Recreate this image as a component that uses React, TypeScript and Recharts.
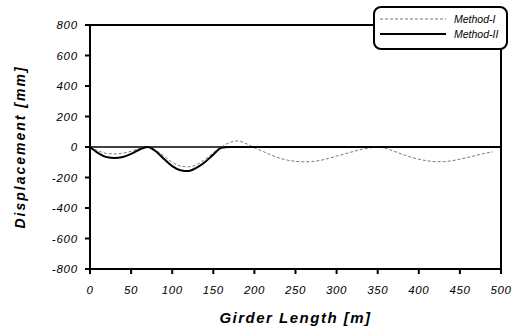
import React from "react";
import { LineChart, Line, XAxis, YAxis, ReferenceLine, ReferenceArea, Label } from "recharts";

const xValues = [0,10,20,30,40,50,60,70,80,90,100,110,120,130,140,150,160,170,180,190,200,210,220,230,240,250,260,270,280,290,300,310,320,330,340,350,360,370,380,390,400,410,420,430,440,450,460,470,480,490,500];
const method1: (number | null)[] = [0,-25,-42,-45,-40,-28,-10,-2,-22,-60,-100,-125,-130,-115,-80,-38,0,30,40,22,-5,-28,-52,-72,-86,-94,-97,-95,-88,-75,-60,-45,-30,-16,-6,-2,-10,-28,-48,-66,-80,-90,-96,-96,-90,-80,-68,-55,-42,-32,null];
const method2: (number | null)[] = [0,-40,-66,-72,-65,-45,-18,0,-28,-78,-125,-152,-158,-135,-98,-50,-5,0,0,0,0,0,0,0,0,0,0,0,0,0,0,0,0,0,0,0,0,0,0,0,0,0,0,0,0,0,0,0,0,0,0];
const xTicks = [0,50,100,150,200,250,300,350,400,450,500];
const yTicks = [-800,-600,-400,-200,0,200,400,600,800];
const seriesNames = ["Method-I", "Method-II"];

const data = xValues.map((x, i) => ({ x, m1: method1[i], m2: method2[i] }));

const font = "Liberation Sans, Arial, sans-serif";

// layout
const W = 517, H = 328;
const M = { top: 25, right: 16, bottom: 0, left: 0 };
const Y_AXIS_W = 90, X_AXIS_H = 59;
const plotW = W - M.left - M.right - Y_AXIS_W;
const plotH = H - M.top - M.bottom - X_AXIS_H;
const xMin = xTicks[0], xMax = xTicks[xTicks.length - 1];
const yMin = yTicks[0], yMax = yTicks[yTicks.length - 1];
const TICK_PX = 5;
const tickLenX = (TICK_PX * (xMax - xMin)) / plotW;
const tickLenY = (TICK_PX * (yMax - yMin)) / plotH;

const XTick = (props: any) => {
  const { x, y, payload } = props;
  return (
    <text x={x} y={y + 20} textAnchor="middle" fontFamily={font} fontStyle="italic" fontSize={11.5} letterSpacing={0.6} fill="#000">{payload.value}</text>
  );
};

const YTick = (props: any) => {
  const { x, y, payload } = props;
  return (
    <text x={x - 7} y={y + 4} textAnchor="end" fontFamily={font} fontStyle="italic" fontSize={11.5} letterSpacing={0.8} fill="#000">{payload.value}</text>
  );
};

const LegendBox = () => (
  <div style={{ position: "absolute", left: 373, top: 6, border: "2px solid #000", borderRadius: 8, background: "#fff", width: 135, height: 44, boxSizing: "border-box", fontFamily: font, fontStyle: "italic", fontSize: 10.5, color: "#000" }}>
    <svg width={70} height={40} style={{ position: "absolute", left: 3, top: 1 }}>
      <line x1={2} y1={10} x2={68} y2={10} stroke="#777" strokeWidth={1} strokeDasharray="3 2" />
      <rect x={2} y={24} width={66} height={2} fill="#000" />
    </svg>
    <div style={{ position: "absolute", left: 79, top: 5, lineHeight: "12px" }}>{seriesNames[0]}</div>
    <div style={{ position: "absolute", left: 79, top: 20, lineHeight: "12px" }}>{seriesNames[1]}</div>
  </div>
);

export default function App() {
  return (
    <div style={{ position: "absolute", left: 0, top: 0, width: W, height: H, background: "#fff" }}>
      <LineChart width={W} height={H} data={data} margin={M}>
        <XAxis
          dataKey="x"
          type="number"
          domain={[xMin, xMax]}
          ticks={xTicks}
          height={X_AXIS_H}
          tickSize={TICK_PX}
          tickMargin={0}
          tick={<XTick />}
          axisLine={false}
          tickLine={false}
          interval={0}
        >
          <Label value="Girder Length [m]" position="insideBottom" offset={5} style={{ fontFamily: font, fontStyle: "italic", fontWeight: "bold", fontSize: 15, letterSpacing: 1.5, fill: "#000", stroke: "none" }} />
        </XAxis>
        <YAxis
          type="number"
          domain={[yMin, yMax]}
          ticks={yTicks}
          width={Y_AXIS_W}
          tickSize={TICK_PX}
          tickMargin={0}
          tick={<YTick />}
          axisLine={false}
          tickLine={false}
          interval={0}
        >
          <Label value="Displacement [mm]" angle={-90} position="insideLeft" offset={20} style={{ textAnchor: "middle", fontFamily: font, fontStyle: "italic", fontWeight: "bold", fontSize: 14, letterSpacing: 2, fill: "#000", stroke: "none" }} />
        </YAxis>
        <ReferenceArea x1={xMin} x2={xMax} y1={yMin} y2={yMax} fill="none" fillOpacity={0} stroke="#000" strokeWidth={2} ifOverflow="visible" />
        {xTicks.map((t) => (
          <ReferenceLine key={"xt" + t} segment={[{ x: t, y: yMin }, { x: t, y: yMin - tickLenY }]} stroke="#000" strokeWidth={2} ifOverflow="visible" />
        ))}
        {yTicks.map((t) => (
          <ReferenceLine key={"yt" + t} segment={[{ x: xMin - tickLenX, y: t }, { x: xMin, y: t }]} stroke="#000" strokeWidth={2} ifOverflow="visible" />
        ))}
        <ReferenceLine y={0} stroke="#000" strokeWidth={1.5} />
        <Line dataKey="m1" name={seriesNames[0]} type="monotone" stroke="#777" strokeWidth={1} strokeDasharray="3 2" dot={false} isAnimationActive={false} connectNulls={false} />
        <Line dataKey="m2" name={seriesNames[1]} type="monotone" stroke="#000" strokeWidth={2} dot={false} isAnimationActive={false} />
      </LineChart>
      <LegendBox />
    </div>
  );
}
